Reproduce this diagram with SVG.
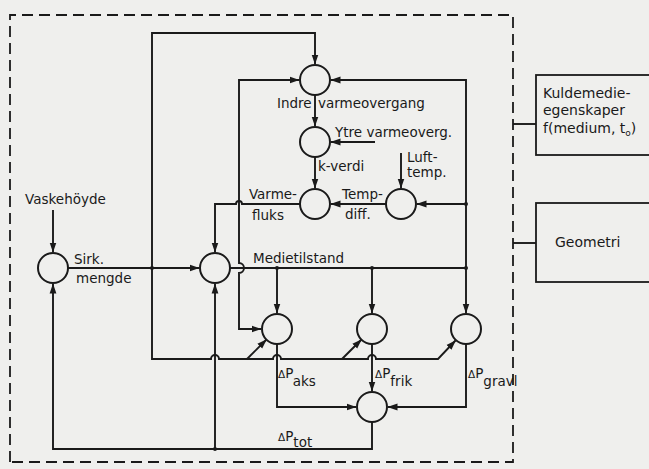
<svg xmlns="http://www.w3.org/2000/svg" width="649" height="469" viewBox="0 0 649 469">
<defs>
<marker id="ah" markerWidth="10" markerHeight="8" refX="9.5" refY="4" orient="auto" markerUnits="userSpaceOnUse"><path d="M0,0.6 L10,4 L0,7.4 z" fill="#1a1a1a"/></marker>
</defs>
<style>
.n{fill:none;stroke:#1a1a1a;stroke-width:2}
.c{fill:none;stroke:#1a1a1a;stroke-width:1.9}
.a{marker-end:url(#ah)}
.d{fill:none;stroke:#1a1a1a;stroke-width:1.8;stroke-dasharray:11 6}
.b{fill:none;stroke:#1a1a1a;stroke-width:1.8}
text{font-family:"DejaVu Sans",sans-serif;font-size:13.5px;fill:#1a1a1a}
.dl{font-size:10.5px}
.r{font-size:14px}
.dot{fill:#1a1a1a}
</style>
<rect width="649" height="469" fill="#efefed"/>
<path class="d" d="M10,462 V15 H513 V462 H10"/>

<g id="connectors">
<path class="c a" d="M152,268 V33 H315 V64"/>
<path class="c a" d="M152,268 V359 H211 a4,4 0 0 1 8,0 H273 a4,4 0 0 1 8,0 H368 a4,4 0 0 1 8,0 H438 L455.5,340.5"/>
<path class="c a" d="M247,359 L266.5,339.5"/>
<path class="c a" d="M342,359 L361.5,339.5"/>
<path class="c a" d="M68,268 H199"/>
<path class="c a" d="M53,210 V252"/>
<path class="c a" d="M372,422 V449 H53 V284"/>
<path class="c a" d="M215,449 V284"/>
<path class="c" d="M230,268 H466"/>
<path class="c a" d="M277,268 V313"/>
<path class="c a" d="M372,268 V313"/>
<path class="c a" d="M466,268 V80 H331"/>
<path class="c a" d="M466,204 H417"/>
<path class="c a" d="M466,268 V313"/>
<path class="c a" d="M239,204 V80 H299"/>
<path class="c a" d="M239,204 V263 a5,5 0 0 1 0,10 V329 H261"/>
<path class="c a" d="M300,204 H242 a3,3 0 0 0 -6,0 H215 V252"/>
<path class="c a" d="M315,95 V126"/>
<path class="c a" d="M315,157 V188"/>
<path class="c a" d="M375,142 H331"/>
<path class="c a" d="M401,153 V188"/>
<path class="c a" d="M386,204 H331"/>
<path class="c a" d="M277,344 V407 H356"/>
<path class="c a" d="M372,344 V391"/>
<path class="c a" d="M466,344 V407 H388"/>
<path class="c" d="M513,124 H536"/>
<path class="c" d="M513,243 H536"/>
<circle class="dot" cx="152" cy="268" r="2"/>
<circle class="dot" cx="215" cy="449" r="2"/>
<circle class="dot" cx="277" cy="268" r="2"/>
<circle class="dot" cx="372" cy="268" r="2"/>
<circle class="dot" cx="466" cy="268" r="2"/>
<circle class="dot" cx="466" cy="204" r="2"/>
</g>

<g id="labels">
<text x="277" y="108">Indre</text>
<text x="318" y="108">varmeovergang</text>
<text x="335" y="137">Ytre varmeoverg.</text>
<text x="318" y="171">k-verdi</text>
<text x="407" y="162">Luft-</text>
<text x="407" y="177">temp.</text>
<text x="297" y="199" text-anchor="end">Varme-</text>
<text x="252" y="220">fluks</text>
<text x="342" y="199">Temp-</text>
<text x="345" y="219">diff.</text>
<text x="25" y="204">Vaskehöyde</text>
<text x="74" y="264">Sirk.</text>
<text x="76" y="283">mengde</text>
<text x="253" y="263">Medietilstand</text>
<text x="278" y="378"><tspan class="dl">Δ</tspan>P<tspan dy="8">aks</tspan></text>
<text x="375" y="378"><tspan class="dl">Δ</tspan>P<tspan dy="8">frik</tspan></text>
<text x="468" y="378"><tspan class="dl">Δ</tspan>P<tspan dy="8">gravl</tspan></text>
<text x="278" y="441"><tspan class="dl">Δ</tspan>P<tspan dy="6">tot</tspan></text>
</g>

<g id="A"><circle class="n" cx="315" cy="80" r="15"/></g>
<g id="B"><circle class="n" cx="315" cy="142" r="15"/></g>
<g id="C"><circle class="n" cx="315" cy="204" r="15"/></g>
<g id="D"><circle class="n" cx="401" cy="204" r="15"/></g>
<g id="E"><circle class="n" cx="53" cy="268" r="15"/></g>
<g id="F"><circle class="n" cx="215" cy="268" r="15"/></g>
<g id="G"><circle class="n" cx="277" cy="329" r="15"/></g>
<g id="H"><circle class="n" cx="372" cy="329" r="15"/></g>
<g id="I"><circle class="n" cx="466" cy="329" r="15"/></g>
<g id="J"><circle class="n" cx="372" cy="407" r="15"/></g>

<g id="kuldemedie">
<rect class="b" x="536" y="75" width="130" height="80"/>
<text class="r" x="543" y="98">Kuldemedie-</text>
<text class="r" x="543" y="115">egenskaper</text>
<text class="r" x="543" y="133">f(medium, t<tspan dy="3" style="font-size:9px">o</tspan><tspan dy="-3">)</tspan></text>
</g>
<g id="geometri">
<rect class="b" x="536" y="203" width="130" height="79"/>
<text class="r" x="555" y="247">Geometri</text>
</g>
</svg>
